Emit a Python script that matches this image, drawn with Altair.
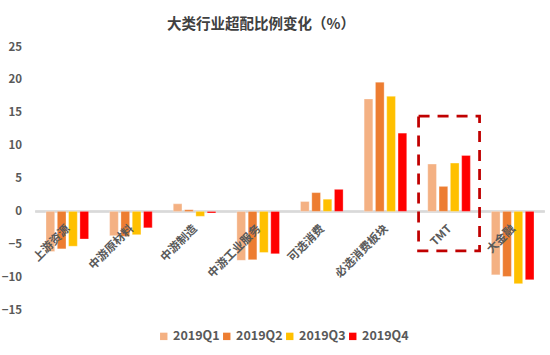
import altair as alt
import pandas as pd

categories = ["上游资源", "中游原材料", "中游制造", "中游工业服务", "可选消费", "必选消费板块", "TMT", "大金融"]
quarters = ["2019Q1", "2019Q2", "2019Q3", "2019Q4"]
q1 = [-6.1, -3.7, 1.15, -7.45, 1.5, 17.1, 7.2, -9.65]
q2 = [-5.7, -3.8, 0.25, -7.35, 2.85, 19.65, 3.8, -9.9]
q3 = [-5.3, -3.55, -0.75, -6.25, 1.85, 17.5, 7.35, -11.0]
q4 = [-4.2, -2.5, -0.25, -6.45, 3.35, 11.9, 8.5, -10.4]
colors = ["#F4B183", "#ED7D31", "#FFC000", "#FF0000"]
y_ticks = [-15, -10, -5, 0, 5, 10, 15, 20, 25]
highlight_category = ["TMT"]
highlight_top = [14.5]
highlight_bottom = [-6.0]

FONT = "Noto Sans CJK SC"
TXT = "#595959"

rows = []
for qi, series in enumerate([q1, q2, q3, q4]):
    for c, v in zip(categories, series):
        rows.append({"category": c, "quarter": quarters[qi], "value": v})
df = pd.DataFrame(rows)
cat_df = pd.DataFrame({"category": categories})
box_df = pd.DataFrame({"category": highlight_category, "top": highlight_top, "bottom": highlight_bottom})

x_enc = alt.X("category:N", sort=categories, axis=None,
              scale=alt.Scale(paddingInner=0, paddingOuter=0))
y_scale = alt.Scale(domain=[-15, 25], nice=False, zero=False)
y_axis = alt.Axis(values=y_ticks, title=None, grid=False, domain=False, ticks=False,
                  labelFont=FONT, labelFontSize=11.5, labelFontWeight="bold",
                  labelColor=TXT, labelPadding=14, labelOverlap=False, labelFlush=False)

bars = alt.Chart(df).mark_bar(stroke="white", strokeWidth=0.6, strokeOpacity=0.5).encode(
    x=x_enc,
    xOffset=alt.XOffset("quarter:N", sort=quarters,
                        scale=alt.Scale(paddingInner=0.23, paddingOuter=0.93)),
    y=alt.Y("value:Q", scale=y_scale, axis=y_axis),
    color=alt.Color("quarter:N", sort=quarters,
                    scale=alt.Scale(domain=quarters, range=colors),
                    legend=alt.Legend(orient="none", legendX=122, legendY=283,
                                      direction="horizontal", title=None, padding=0,
                                      symbolType="square", symbolSize=55, symbolStrokeWidth=0,
                                      labelFont=FONT, labelFontSize=12.5, labelFontWeight="bold",
                                      labelColor=TXT, labelOffset=3, columnPadding=0)),
)

zero = alt.Chart(cat_df).mark_rule(color="#D9D9D9", strokeWidth=1.5).encode(
    y=alt.datum(0, scale=y_scale, axis=y_axis)
)

labels = alt.Chart(cat_df).mark_text(
    angle=315, align="right", baseline="middle", dx=-10.5, dy=12,
    font=FONT, fontSize=11.5, fontWeight="bold", color=TXT
).encode(
    x=alt.X("category:N", sort=categories, axis=None),
    y=alt.datum(0, axis=y_axis),
    text="category:N",
)

box = alt.Chart(box_df).mark_bar(filled=False, color="#C00000", strokeWidth=2.75,
                                 strokeDash=[11, 8], size=61).encode(
    x=alt.X("category:N", sort=categories, axis=None),
    y=alt.Y("top:Q", axis=y_axis),
    y2="bottom:Q",
)

chart = alt.layer(zero, bars, box, labels).properties(
    width=509, height=263,
    background="white",
    title=alt.TitleParams(text="大类行业超配比例变化（%）", font=FONT, fontSize=14.5,
                          fontWeight="bold", color="#404040", anchor="middle",
                          frame="group", dx=-29, offset=9),
    autosize=alt.AutoSizeParams(type="none"),
    padding={"left": 35.5, "top": 47, "right": 5.5, "bottom": 45},
).configure_view(strokeWidth=0, stroke="transparent").configure_axis(
    domain=False, ticks=False, grid=False
)

chart.save("out.html", embed_options={"renderer": "svg", "actions": False})
